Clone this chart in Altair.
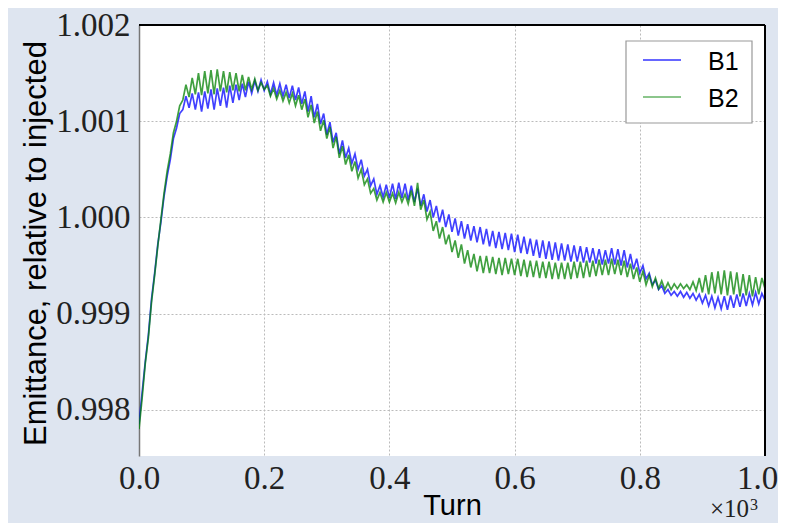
import altair as alt
import pandas as pd

# Sampling grid of the turn axis (in units of 10^3 turns)
TURN = [round(0.005 * i, 3) for i in range(201)]

B1 = [
    0.99785, 0.99818, 0.99850, 0.99878, 0.99915, 0.99942, 0.99972, 0.99995, 1.00022, 1.00043,
    1.00060, 1.00082, 1.00093, 1.00108, 1.00112, 1.00126, 1.00114, 1.00129, 1.00112, 1.00130,
    1.00110, 1.00131, 1.00113, 1.00133, 1.00112, 1.00134, 1.00116, 1.00135, 1.00114, 1.00137,
    1.00119, 1.00138, 1.00122, 1.00139, 1.00125, 1.00141, 1.00129, 1.00142, 1.00131, 1.00143,
    1.00132, 1.00141, 1.00128, 1.00140, 1.00127, 1.00139, 1.00126, 1.00138, 1.00124, 1.00137,
    1.00122, 1.00135, 1.00118, 1.00131, 1.00110, 1.00126, 1.00104, 1.00118, 1.00097, 1.00108,
    1.00086, 1.00099, 1.00078, 1.00088, 1.00066, 1.00080, 1.00062, 1.00072, 1.00056, 1.00066,
    1.00050, 1.00060, 1.00043, 1.00050, 1.00033, 1.00040, 1.00024, 1.00033, 1.00021, 1.00034,
    1.00020, 1.00035, 1.00019, 1.00036, 1.00020, 1.00035, 1.00018, 1.00033, 1.00016, 1.00030,
    1.00012, 1.00024, 1.00006, 1.00018, 1.00000, 1.00012, 0.99995, 1.00008, 0.99990, 1.00003,
    0.99985, 0.99999, 0.99981, 0.99996, 0.99978, 0.99993, 0.99976, 0.99991, 0.99974, 0.99990,
    0.99972, 0.99988, 0.99970, 0.99986, 0.99968, 0.99985, 0.99967, 0.99984, 0.99966, 0.99983,
    0.99964, 0.99982, 0.99963, 0.99980, 0.99962, 0.99978, 0.99960, 0.99977, 0.99958, 0.99976,
    0.99957, 0.99975, 0.99956, 0.99974, 0.99955, 0.99973, 0.99955, 0.99972, 0.99954, 0.99971,
    0.99954, 0.99970, 0.99953, 0.99969, 0.99953, 0.99968, 0.99952, 0.99967, 0.99951, 0.99966,
    0.99952, 0.99968, 0.99951, 0.99967, 0.99950, 0.99966, 0.99948, 0.99962, 0.99946, 0.99957,
    0.99942, 0.99950, 0.99936, 0.99942, 0.99930, 0.99935, 0.99925, 0.99929, 0.99921, 0.99925,
    0.99919, 0.99923, 0.99918, 0.99923, 0.99917, 0.99922, 0.99916, 0.99921, 0.99914, 0.99920,
    0.99911, 0.99919, 0.99908, 0.99918, 0.99906, 0.99917, 0.99905, 0.99918, 0.99904, 0.99919,
    0.99906, 0.99920, 0.99907, 0.99921, 0.99908, 0.99921, 0.99909, 0.99922, 0.99910, 0.99921,
    0.99914,
]

B2 = [
    0.99780, 0.99812, 0.99848, 0.99875, 0.99912, 0.99940, 0.99970, 0.99998, 1.00025, 1.00048,
    1.00066, 1.00088, 1.00100, 1.00116, 1.00122, 1.00138, 1.00125, 1.00145, 1.00128, 1.00150,
    1.00127, 1.00152, 1.00129, 1.00153, 1.00128, 1.00154, 1.00131, 1.00152, 1.00130, 1.00151,
    1.00132, 1.00150, 1.00131, 1.00148, 1.00132, 1.00146, 1.00133, 1.00144, 1.00132, 1.00140,
    1.00133, 1.00137, 1.00126, 1.00134, 1.00123, 1.00132, 1.00121, 1.00130, 1.00119, 1.00129,
    1.00116, 1.00127, 1.00112, 1.00123, 1.00104, 1.00117, 1.00098, 1.00110, 1.00090, 1.00101,
    1.00082, 1.00094, 1.00072, 1.00084, 1.00062, 1.00074, 1.00055, 1.00065, 1.00048, 1.00058,
    1.00041, 1.00050, 1.00034, 1.00040, 1.00025, 1.00030, 1.00018, 1.00026, 1.00016, 1.00026,
    1.00016, 1.00025, 1.00015, 1.00026, 1.00016, 1.00024, 1.00014, 1.00028, 1.00012, 1.00036,
    1.00008, 1.00018, 0.99998, 1.00006, 0.99986, 0.99996, 0.99978, 0.99990, 0.99972, 0.99982,
    0.99964, 0.99976, 0.99958, 0.99972, 0.99952, 0.99966, 0.99948, 0.99962, 0.99944, 0.99960,
    0.99942, 0.99960, 0.99942, 0.99959, 0.99941, 0.99958, 0.99940, 0.99958, 0.99941, 0.99957,
    0.99940, 0.99957, 0.99939, 0.99956, 0.99938, 0.99955, 0.99938, 0.99955, 0.99937, 0.99954,
    0.99937, 0.99954, 0.99936, 0.99953, 0.99936, 0.99953, 0.99936, 0.99953, 0.99936, 0.99954,
    0.99937, 0.99954, 0.99937, 0.99955, 0.99938, 0.99955, 0.99939, 0.99956, 0.99940, 0.99956,
    0.99940, 0.99957, 0.99941, 0.99956, 0.99940, 0.99955, 0.99938, 0.99952, 0.99936, 0.99948,
    0.99933, 0.99944, 0.99930, 0.99940, 0.99928, 0.99937, 0.99926, 0.99934, 0.99925, 0.99932,
    0.99925, 0.99931, 0.99926, 0.99931, 0.99926, 0.99930, 0.99925, 0.99933, 0.99924, 0.99937,
    0.99922, 0.99940, 0.99920, 0.99943, 0.99921, 0.99944, 0.99920, 0.99945, 0.99919, 0.99944,
    0.99920, 0.99943, 0.99918, 0.99941, 0.99919, 0.99940, 0.99918, 0.99938, 0.99920, 0.99937,
    0.99926,
]

SERIES = ["B1", "B2"]
COLORS = ["#0000ff", "#008000"]
X_TICKS = [0.0, 0.2, 0.4, 0.6, 0.8, 1.0]
Y_TICKS = [0.998, 0.999, 1.000, 1.001, 1.002]

W, H = 626, 431

df = pd.DataFrame({
    "turn": TURN * 2,
    "emit": B1 + B2,
    "beam": ["B1"] * len(B1) + ["B2"] * len(B2),
})
one = pd.DataFrame({"a": [0]})

SERIF = "Liberation Serif"
SANS = "Liberation Sans"

lines = alt.Chart(df).mark_line(strokeWidth=1.7, opacity=0.75, clip=True).encode(
    x=alt.X("turn:Q",
            scale=alt.Scale(domain=[0, 1.0], nice=False, zero=False),
            axis=alt.Axis(values=X_TICKS, format=".1f", title="Turn",
                          labelFont=SERIF, labelFontSize=33, labelColor="#222222",
                          labelBaseline="alphabetic", labelPadding=32,
                          labelFlush=False, labelOverlap=False,
                          labelOffset=alt.condition("datum.value >= 0.99", alt.value(-8), alt.value(0)),
                          tickSize=0, domain=False,
                          grid=True, gridDash=[2, 2], gridColor="#bbbbbb", gridWidth=1,
                          titleFont=SANS, titleFontSize=29, titleFontWeight="normal",
                          titleColor="#000000", titleX=313, titleY=58,
                          titleBaseline="alphabetic", titleAlign="center")),
    y=alt.Y("emit:Q",
            scale=alt.Scale(domain=[0.99752, 1.002], nice=False, zero=False),
            axis=alt.Axis(values=Y_TICKS, format=".3f",
                          title="Emittance, relative to injected",
                          labelFont=SERIF, labelFontSize=33, labelColor="#222222",
                          labelBaseline="middle", labelPadding=9,
                          labelFlush=False, labelOverlap=False,
                          tickSize=0, domain=True, domainColor="#777777", domainWidth=1.5,
                          grid=True, gridDash=[2, 2], gridColor="#bbbbbb", gridWidth=1,
                          titleFont=SANS, titleFontSize=31, titleFontWeight="normal",
                          titleColor="#000000", titleX=-94, titleY=218,
                          titleBaseline="alphabetic", titleAlign="center")),
    color=alt.Color("beam:N", scale=alt.Scale(domain=SERIES, range=COLORS), legend=None),
)

top_spine = alt.Chart(one).mark_rule(color="black", strokeWidth=2).encode(
    x=alt.value(0), x2=alt.value(W), y=alt.value(0))
right_spine = alt.Chart(one).mark_rule(color="black", strokeWidth=2).encode(
    x=alt.value(W), y=alt.value(0), y2=alt.value(H))

legend_box = alt.Chart(one).mark_rect(fill="white", stroke="#999999", strokeWidth=1.2).encode(
    x=alt.value(487), x2=alt.value(613), y=alt.value(16), y2=alt.value(98))
leg_b1 = alt.Chart(one).mark_rule(color=COLORS[0], strokeWidth=2, opacity=0.6).encode(
    x=alt.value(504), x2=alt.value(542), y=alt.value(35))
leg_b2 = alt.Chart(one).mark_rule(color=COLORS[1], strokeWidth=2, opacity=0.45).encode(
    x=alt.value(504), x2=alt.value(542), y=alt.value(72))
leg_t1 = alt.Chart(one).mark_text(text=SERIES[0], font=SANS, fontSize=25, align="left",
                                  baseline="alphabetic", color="black").encode(
    x=alt.value(569), y=alt.value(45))
leg_t2 = alt.Chart(one).mark_text(text=SERIES[1], font=SANS, fontSize=25, align="left",
                                  baseline="alphabetic", color="black").encode(
    x=alt.value(569), y=alt.value(82))

mult = alt.Chart(one).mark_text(text="×10", font=SERIF, fontSize=25, align="right",
                                baseline="alphabetic", color="#222222").encode(
    x=alt.value(610), y=alt.value(492))
mult_exp = alt.Chart(one).mark_text(text="3", font=SERIF, fontSize=16, align="left",
                                    baseline="alphabetic", color="#222222").encode(
    x=alt.value(611), y=alt.value(485))

chart = alt.layer(
    lines, top_spine, right_spine, legend_box, leg_b1, leg_b2, leg_t1, leg_t2, mult, mult_exp
).properties(
    width=W, height=H,
    autosize=alt.AutoSizeParams(type="none"),
    padding={"left": 131, "top": 17, "right": 13, "bottom": 67},
    background="#dee5f0",
).configure_view(fill="white", stroke=None)

chart.save("out.html", embed_options={"renderer": "svg", "actions": False})
